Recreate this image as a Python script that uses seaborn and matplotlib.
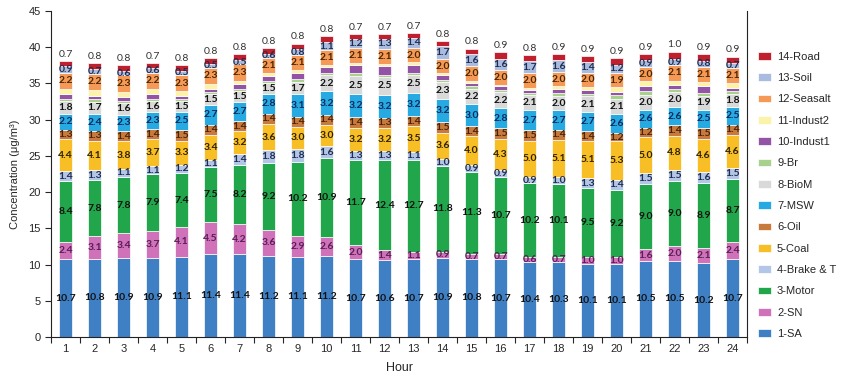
import numpy as np
import pandas as pd
import matplotlib
matplotlib.use("Agg")
import matplotlib.pyplot as plt
import seaborn as sns

hours = list(range(1, 25))
sa = [10.7,10.8,10.9,10.9,11.1,11.4,11.4,11.2,11.1,11.2,10.7,10.6,10.7,10.9,10.8,10.7,10.4,10.3,10.1,10.1,10.5,10.5,10.2,10.7]
sn = [2.4,3.1,3.4,3.7,4.1,4.5,4.2,3.6,2.9,2.6,2.0,1.4,1.1,0.9,0.7,0.7,0.6,0.7,1.0,1.0,1.6,2.0,2.1,2.4]
motor = [8.4,7.8,7.8,7.9,7.4,7.5,8.2,9.2,10.2,10.9,11.7,12.4,12.7,11.8,11.3,10.7,10.2,10.1,9.5,9.2,9.0,9.0,8.9,8.7]
brake = [1.4,1.3,1.1,1.1,1.2,1.1,1.4,1.8,1.8,1.6,1.3,1.3,1.1,1.0,0.9,0.9,0.9,1.0,1.3,1.4,1.5,1.5,1.6,1.5]
coal = [4.4,4.1,3.8,3.7,3.3,3.4,3.2,3.6,3.0,3.0,3.2,3.2,3.5,3.6,4.0,4.3,5.0,5.1,5.1,5.3,5.0,4.8,4.6,4.6]
oil = [1.3,1.3,1.4,1.4,1.5,1.4,1.4,1.4,1.4,1.4,1.4,1.3,1.4,1.5,1.4,1.5,1.5,1.4,1.4,1.2,1.2,1.4,1.5,1.4]
msw = [2.2,2.4,2.3,2.3,2.5,2.7,2.7,2.8,3.1,3.2,3.2,3.2,3.2,3.2,3.0,2.8,2.7,2.7,2.7,2.6,2.6,2.6,2.5,2.5]
biom = [1.8,1.7,1.6,1.6,1.5,1.5,1.5,1.5,1.7,2.2,2.5,2.5,2.5,2.3,2.2,2.2,2.1,2.0,2.1,2.1,2.0,2.0,1.9,1.8]
br = [0.3,0.3,0.3,0.3,0.3,0.3,0.3,0.3,0.4,0.3,0.4,0.3,0.3,0.3,0.3,0.3,0.3,0.4,0.4,0.5,0.5,0.4,0.4,0.3]
indust1 = [0.6,0.5,0.5,0.6,0.4,0.5,0.6,0.6,0.9,0.9,1.1,1.2,1.1,0.7,0.5,0.5,0.4,0.6,0.5,0.4,0.7,0.6,0.9,0.5]
indust2 = [0.8,0.8,0.7,0.8,0.6,0.6,0.5,0.4,0.3,0.2,0.3,0.3,0.3,0.2,0.3,0.2,0.3,0.3,0.4,0.7,0.7,0.6,0.6,0.6]
seasalt = [2.2,2.2,2.3,2.2,2.3,2.3,2.3,2.1,2.1,2.1,2.1,2.1,2.0,2.0,2.0,2.0,2.0,2.0,2.0,1.9,2.0,2.1,2.1,2.1]
soil = [0.9,0.7,0.6,0.6,0.5,0.5,0.5,0.6,0.8,1.1,1.2,1.3,1.4,1.7,1.6,1.6,1.7,1.6,1.4,1.2,0.9,0.9,0.8,0.7]
road = [0.7,0.8,0.8,0.7,0.8,0.8,0.8,0.8,0.8,0.8,0.7,0.7,0.7,0.8,0.8,0.9,0.8,0.9,0.9,0.9,0.9,1.0,0.9,0.9]

sources = ["1-SA", "2-SN", "3-Motor", "4-Brake & T", "5-Coal", "6-Oil", "7-MSW",
           "8-BioM", "9-Br", "10-Indust1", "11-Indust2", "12-Seasalt", "13-Soil", "14-Road"]
series = [sa, sn, motor, brake, coal, oil, msw, biom, br, indust1, indust2, seasalt, soil, road]
colors = ["#3F7FC4", "#CF72B9", "#22A64B", "#B4C6E7", "#F7BE25", "#C87A3C", "#27A9E1",
          "#D9D9D9", "#A9D18E", "#9454A5", "#FAF3A8", "#F59A56", "#A9BCE0", "#C0202E"]
label_colors = ["#111111", "#5A1E56", "#111111", "#1F2D4F", "#2E2200", "#4A240A", "#0B2A5C",
                "#111111", None, None, None, "#4A2600", "#1F2D4F", None]

rows = []
for name, vals in zip(sources, series):
    for h, v in zip(hours, vals):
        rows.append({"hour": h, "source": name, "value": v})
df = pd.DataFrame(rows)

sns.set_style("ticks")
plt.rcParams["font.family"] = ["Liberation Sans", "DejaVu Sans"]

fig = plt.figure(figsize=(8.46, 3.82), dpi=100)
ax = fig.add_axes([51/846, 1 - 337/382, 696/846, 326/382])

hue_order = sources[::-1]
palette = dict(zip(sources, colors))
sns.histplot(data=df, x="hour", weights="value", hue="source", hue_order=hue_order,
             multiple="stack", discrete=True, shrink=0.42, palette=palette,
             alpha=1, edgecolor="white", linewidth=0.5, ax=ax, legend=True)

# data labels
bottom = np.zeros(len(hours))
for name, vals, lc in zip(sources, series, label_colors):
    vals = np.array(vals)
    if name == "14-Road":
        for h, b, v in zip(hours, bottom, vals):
            ax.text(h, b + v + 0.3, f"{v:.1f}", ha="center", va="bottom",
                    fontsize=7.5, color="#333333", family="Lato")
    elif lc is not None:
        for h, b, v in zip(hours, bottom, vals):
            ax.text(h, b + v / 2, f"{v:.1f}", ha="center", va="center",
                    fontsize=7.5, color=lc, fontweight="bold", family="Lato")
    bottom += vals

ax.set_xlim(0.5, 24.5)
ax.set_ylim(0, 45)
ax.set_yticks(range(0, 46, 5))
ax.set_xticks(hours)
ax.set_xticks(np.arange(0.5, 25, 1), minor=True)
ax.tick_params(axis="x", which="major", length=0, labelsize=8, pad=5)
ax.tick_params(axis="x", which="minor", length=4, width=0.8, direction="out")
ax.tick_params(axis="y", length=4, width=0.8, labelsize=8)
for s in ["left", "bottom", "right"]:
    ax.spines[s].set_color("#222222")
    ax.spines[s].set_linewidth(0.8)
ax.spines["top"].set_visible(False)
ax.set_xlabel("Hour", fontsize=9, labelpad=6)
ax.set_ylabel("Concentration (μg/m³)", fontsize=8, labelpad=6)

sns.move_legend(ax, loc="upper left", bbox_to_anchor=(1.016, 0.875), frameon=False,
                title=None, fontsize=8, labelspacing=1.02, handlelength=1.2,
                handleheight=0.65, handletextpad=0.5, borderpad=0, borderaxespad=0)

fig.savefig("out.png", dpi=100)
